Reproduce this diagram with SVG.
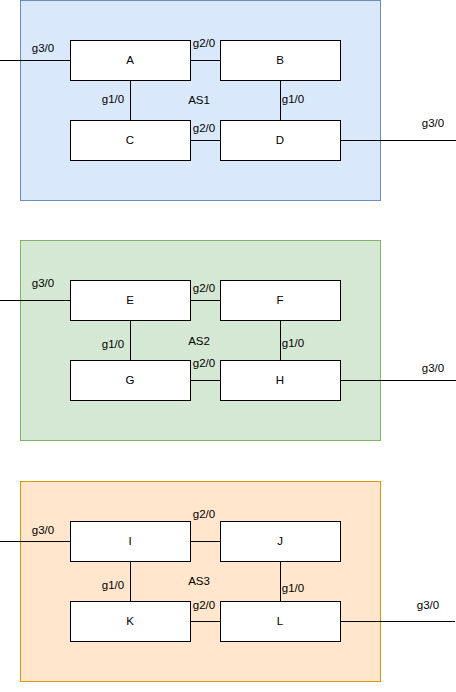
<svg xmlns="http://www.w3.org/2000/svg" width="456" height="692" viewBox="0 0 456 692">
<style>
text{font-family:"Liberation Sans",Arial,sans-serif;font-size:11.5px;fill:#000;text-anchor:middle;dominant-baseline:central}
.node rect{fill:#fff;stroke:#000;stroke-width:1}
.conn line{stroke:#000;stroke-width:1}
</style>
<rect width="456" height="692" fill="#fff"/>
<g id="AS1">
<rect x="20.5" y="0.5" width="360" height="200" fill="#dae8fc" stroke="#6c8ebf"/>
<text x="199" y="100">AS1</text>
</g>
<g id="AS2">
<rect x="20.5" y="240.5" width="360" height="200" fill="#d5e8d4" stroke="#82b366"/>
<text x="199" y="341">AS2</text>
</g>
<g id="AS3">
<rect x="20.5" y="481.5" width="360" height="200" fill="#ffe6cc" stroke="#d79b00"/>
<text x="199" y="581">AS3</text>
</g>
<g class="conn" id="connectors">
<line x1="0" y1="60.5" x2="70" y2="60.5"/>
<line x1="190" y1="60.5" x2="220" y2="60.5"/>
<line x1="130.5" y1="80" x2="130.5" y2="120"/>
<line x1="280.5" y1="80" x2="280.5" y2="120"/>
<line x1="190" y1="140.5" x2="220" y2="140.5"/>
<line x1="340" y1="140.5" x2="456" y2="140.5"/>
<line x1="0" y1="300.5" x2="70" y2="300.5"/>
<line x1="190" y1="300.5" x2="220" y2="300.5"/>
<line x1="130.5" y1="320" x2="130.5" y2="360"/>
<line x1="280.5" y1="320" x2="280.5" y2="360"/>
<line x1="190" y1="380.5" x2="220" y2="380.5"/>
<line x1="340" y1="380.5" x2="456" y2="380.5"/>
<line x1="0" y1="541.5" x2="70" y2="541.5"/>
<line x1="190" y1="541.5" x2="220" y2="541.5"/>
<line x1="130.5" y1="561" x2="130.5" y2="601"/>
<line x1="280.5" y1="561" x2="280.5" y2="601"/>
<line x1="190" y1="621.5" x2="220" y2="621.5"/>
<line x1="340" y1="621.5" x2="455" y2="621.5"/>
<text x="43" y="48">g3/0</text>
<text x="204" y="43">g2/0</text>
<text x="113" y="99">g1/0</text>
<text x="293" y="99">g1/0</text>
<text x="204" y="128">g2/0</text>
<text x="433" y="123">g3/0</text>
<text x="43" y="283">g3/0</text>
<text x="204" y="288">g2/0</text>
<text x="113" y="344">g1/0</text>
<text x="293" y="343">g1/0</text>
<text x="204" y="363">g2/0</text>
<text x="433" y="368">g3/0</text>
<text x="43" y="530">g3/0</text>
<text x="204" y="514">g2/0</text>
<text x="113" y="585">g1/0</text>
<text x="293" y="588">g1/0</text>
<text x="204" y="605">g2/0</text>
<text x="428" y="605">g3/0</text>
</g>
<g class="node" id="A"><rect x="70.5" y="40.5" width="120" height="40"/><text x="130" y="60">A</text></g>
<g class="node" id="B"><rect x="220.5" y="40.5" width="120" height="40"/><text x="280" y="60">B</text></g>
<g class="node" id="C"><rect x="70.5" y="120.5" width="120" height="40"/><text x="130" y="140">C</text></g>
<g class="node" id="D"><rect x="220.5" y="120.5" width="120" height="40"/><text x="280" y="140">D</text></g>
<g class="node" id="E"><rect x="70.5" y="280.5" width="120" height="40"/><text x="130" y="300">E</text></g>
<g class="node" id="F"><rect x="220.5" y="280.5" width="120" height="40"/><text x="280" y="300">F</text></g>
<g class="node" id="G"><rect x="70.5" y="360.5" width="120" height="40"/><text x="130" y="380">G</text></g>
<g class="node" id="H"><rect x="220.5" y="360.5" width="120" height="40"/><text x="280" y="380">H</text></g>
<g class="node" id="I"><rect x="70.5" y="521.5" width="120" height="40"/><text x="130" y="541">I</text></g>
<g class="node" id="J"><rect x="220.5" y="521.5" width="120" height="40"/><text x="280" y="541">J</text></g>
<g class="node" id="K"><rect x="70.5" y="601.5" width="120" height="40"/><text x="130" y="621">K</text></g>
<g class="node" id="L"><rect x="220.5" y="601.5" width="120" height="40"/><text x="280" y="621">L</text></g>
</svg>
